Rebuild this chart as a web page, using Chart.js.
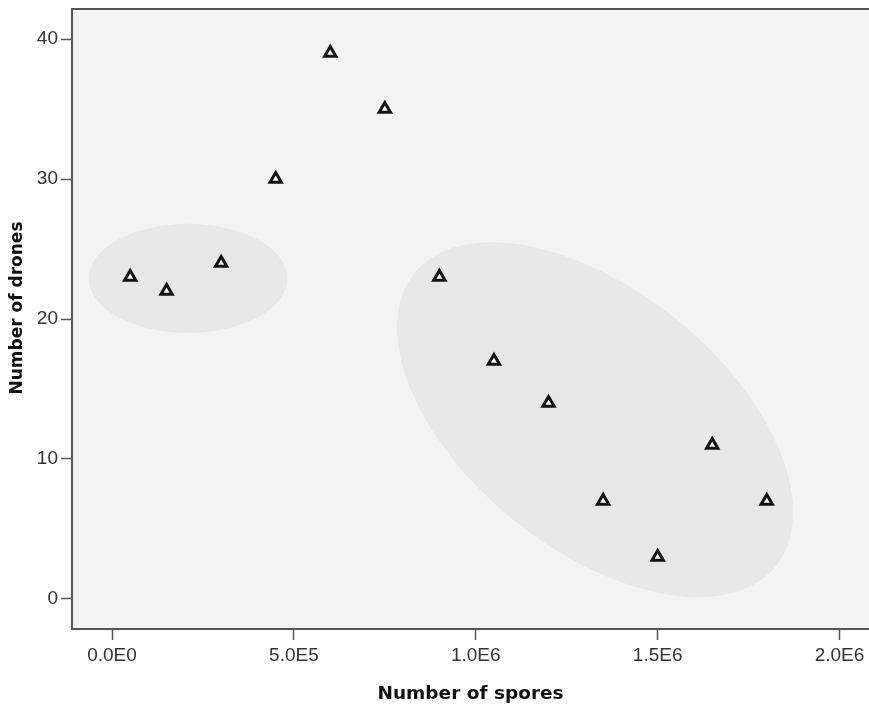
<!DOCTYPE html>
<html>
<head>
<meta charset="utf-8">
<script src="https://cdn.jsdelivr.net/npm/chart.js@4.4.0/dist/chart.umd.min.js"></script>
<style>
body { margin: 0; background: #fff; }
#wrap { width: 869px; height: 707px; }
</style>
</head>
<body>
<div id="wrap"><canvas id="chartSpores" width="869" height="707"></canvas></div>
<script>
// SPORES VS DRONES
var spores = [50000, 150000, 300000, 450000, 600000, 750000, 900000, 1050000, 1200000, 1350000, 1500000, 1650000, 1800000];
var drones = [23, 22, 24, 30, 39, 35, 23, 17, 14, 7, 3, 11, 7];
var xTicks = [0, 500000, 1000000, 1500000, 2000000];
var xTickLabels = ["0.0E0", "5.0E5", "1.0E6", "1.5E6", "2.0E6"];
var yTicks = [0, 10, 20, 30, 40];

// shaded groups in data units: centre, end of long axis, end of short axis
var groupCentres = [[209000, 22.9], [1328000, 12.8]];
var groupMajorEnds = [[482000, 22.9], [1824500, 2.34]];
var groupMinorEnds = [[209000, 26.8], [1105000, 5.61]];

var points = [];
for (var i = 0; i < spores.length; i++) {
    points.push({ x: spores[i], y: drones[i] });
}

var tickFont = { family: "'Liberation Sans', Arial, sans-serif", size: 19 };
var titleFont = { family: "'DejaVu Sans', Verdana, sans-serif", size: 18.5, weight: 'bold' };

var plotBackground = {
    id: 'plotBackground',
    beforeDraw: function(chart) {
        var ctx = chart.ctx;
        var area = chart.chartArea;
        var xs = chart.scales.x;
        var ys = chart.scales.y;
        ctx.save();
        ctx.fillStyle = '#f3f3f3';
        ctx.fillRect(area.left, area.top, area.right - area.left, area.bottom - area.top);

        ctx.fillStyle = '#e7e7e7';
        for (var g = 0; g < groupCentres.length; g++) {
            var cx = xs.getPixelForValue(groupCentres[g][0]);
            var cy = ys.getPixelForValue(groupCentres[g][1]);
            var mx = xs.getPixelForValue(groupMajorEnds[g][0]) - cx;
            var my = ys.getPixelForValue(groupMajorEnds[g][1]) - cy;
            var nx = xs.getPixelForValue(groupMinorEnds[g][0]) - cx;
            var ny = ys.getPixelForValue(groupMinorEnds[g][1]) - cy;
            ctx.beginPath();
            ctx.ellipse(cx, cy, Math.hypot(mx, my), Math.hypot(nx, ny), Math.atan2(my, mx), 0, 2 * Math.PI);
            ctx.fill();
        }
        ctx.restore();
    },
    afterDraw: function(chart) {
        var ctx = chart.ctx;
        var area = chart.chartArea;
        ctx.save();
        // top frame line
        ctx.strokeStyle = '#555';
        ctx.lineWidth = 2;
        ctx.beginPath();
        ctx.moveTo(area.left, area.top);
        ctx.lineTo(area.right, area.top);
        ctx.stroke();

        // y axis title, sits a little above the middle in the original
        ctx.translate(18, (area.top + area.bottom) / 2 - 11);
        ctx.rotate(-Math.PI / 2);
        ctx.fillStyle = '#111';
        ctx.font = "bold 17px 'DejaVu Sans', Verdana, sans-serif";
        ctx.textAlign = 'center';
        ctx.textBaseline = 'middle';
        ctx.fillText('Number of drones', 0, 0);
        ctx.restore();
    }
};

var ctx = document.getElementById("chartSpores").getContext('2d');
var sporesChart = new Chart(ctx, {
    type: 'scatter',
    data: {
        datasets: [{
            data: points,
            pointStyle: 'triangle',
            pointRadius: 6.5,
            pointHoverRadius: 6.5,
            pointBorderWidth: 3,
            pointBorderColor: '#111',
            pointBackgroundColor: '#f7f7f7'
        }]
    },
    options: {
        responsive: false,
        animation: false,
        events: [],
        layout: { autoPadding: false, padding: { top: 9, right: 0, left: 0, bottom: 0 } },
        plugins: {
            legend: { display: false },
            tooltip: { enabled: false }
        },
        scales: {
            x: {
                type: 'linear',
                min: -110000,
                max: 2081000,
                afterBuildTicks: function(scale) {
                    scale.ticks = xTicks.map(function(v) { return { value: v }; });
                },
                afterFit: function(scale) {
                    scale.height = 78;
                    scale.paddingLeft = 0;
                    scale.paddingRight = 0;
                },
                border: { color: '#555', width: 2 },
                grid: { drawOnChartArea: false, tickLength: 11, tickColor: '#555', tickWidth: 1.5 },
                ticks: {
                    autoSkip: false,
                    maxRotation: 0,
                    padding: 4,
                    color: '#333',
                    font: tickFont,
                    callback: function(value) { return xTickLabels[xTicks.indexOf(value)]; }
                },
                title: {
                    display: true,
                    text: 'Number of spores',
                    color: '#111',
                    font: titleFont,
                    padding: { top: 0, bottom: 2 }
                }
            },
            y: {
                type: 'linear',
                min: -2.15,
                max: 42.15,
                afterBuildTicks: function(scale) {
                    scale.ticks = yTicks.map(function(v) { return { value: v }; });
                },
                afterFit: function(scale) {
                    scale.width = 72;
                    scale.paddingTop = 0;
                    scale.paddingBottom = 0;
                },
                border: { color: '#555', width: 2 },
                grid: { drawOnChartArea: false, tickLength: 11, tickColor: '#555', tickWidth: 1.5 },
                ticks: {
                    autoSkip: false,
                    padding: 3,
                    color: '#333',
                    font: tickFont
                }
            }
        }
    },
    plugins: [plotBackground]
});
</script>
</body>
</html>
